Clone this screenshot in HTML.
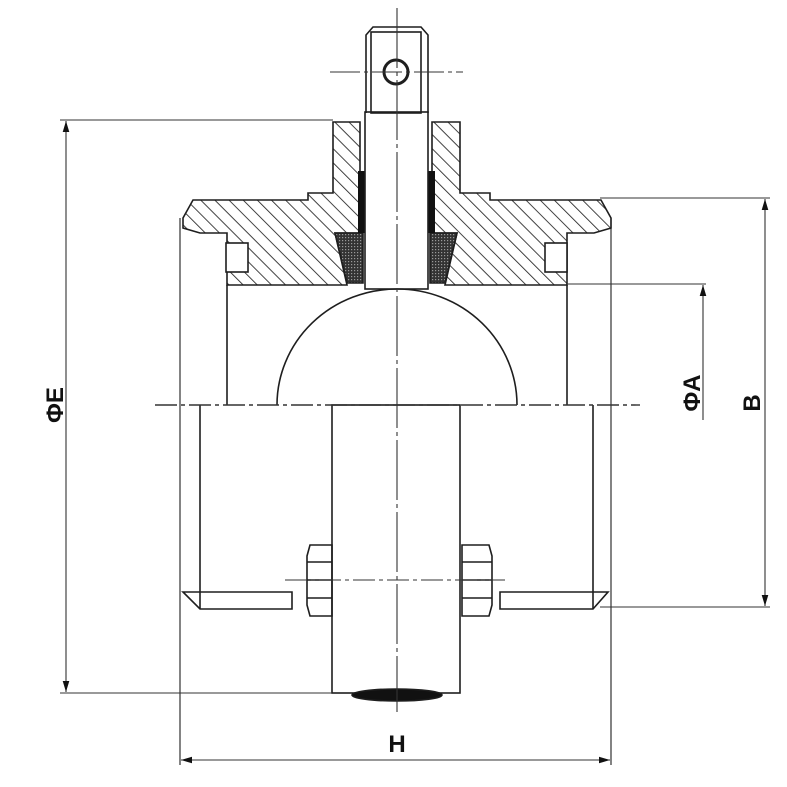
<!DOCTYPE html>
<html><head><meta charset="utf-8"><style>html,body{margin:0;padding:0;background:#fff}svg{display:block}</style></head><body>
<svg width="787" height="787" viewBox="0 0 787 787" xmlns="http://www.w3.org/2000/svg">
<defs>
<pattern id="h" width="10" height="10" patternUnits="userSpaceOnUse" patternTransform="rotate(-45)">
<line x1="0" y1="0" x2="0" y2="10" stroke="#222" stroke-width="1.7"/>
</pattern>
<pattern id="x" width="3" height="3" patternUnits="userSpaceOnUse">
<rect width="3" height="3" fill="#333"/><rect width="1.2" height="1.2" fill="#999"/>
</pattern>
<marker id="a" markerWidth="10" markerHeight="6" refX="10" refY="3" orient="auto"><path d="M0,0 L10,3 L0,6 Z" fill="#111"/></marker>
</defs>
<g fill="none" stroke="#1e1e1e" stroke-width="1.6">
<path d="M183,218 L193,200 L308,200 L308,193 L333,193 L333,122 L360,122 L360,233 L335,233 L347,285 L227,285 L227,233 L200,233 L183,228 Z" fill="url(#h)"/>
<path d="M611,218 L601,200 L490,200 L490,193 L460,193 L460,122 L432,122 L432,233 L457,233 L445,285 L567,285 L567,233 L594,233 L611,228 Z" fill="url(#h)"/>
<rect x="226" y="243" width="22" height="29" fill="#fff"/>
<rect x="545" y="243" width="22" height="29" fill="#fff"/>
<path d="M335,233 L363,233 L363,283 L347,283 Z" fill="url(#x)"/>
<path d="M430,233 L457,233 L445,283 L430,283 Z" fill="url(#x)"/>
<rect x="358" y="171" width="7" height="62" fill="#111" stroke="none"/>
<rect x="428" y="171" width="7" height="62" fill="#111" stroke="none"/>
<rect x="365" y="112" width="63" height="177" fill="#fff"/>
<path d="M366,113 L366,35 L373,27 L421,27 L428,35 L428,113"/>
<rect x="371" y="32" width="50" height="81"/>
<circle cx="396" cy="72" r="12" stroke-width="3"/>
<path d="M277,405 A120,116 0 0 1 517,405"/>
<line x1="180" y1="218" x2="180" y2="765" stroke-width="1.1"/>
<line x1="611" y1="218" x2="611" y2="765" stroke-width="1.1"/>
<line x1="227" y1="285" x2="227" y2="405"/>
<line x1="567" y1="285" x2="567" y2="405"/>
<line x1="200" y1="405" x2="200" y2="609"/>
<line x1="593" y1="405" x2="593" y2="609"/>
<rect x="332" y="405" width="128" height="288"/>
<path d="M183,592 L292,592 L292,609 L200,609 Z"/>
<path d="M608,592 L500,592 L500,609 L593,609 Z"/>
<path d="M310,545 L332,545 L332,616 L310,616 L307,605 L307,556 Z M307,562 L332,562 M307,580 L332,580 M307,598 L332,598"/>
<path d="M462,545 L489,545 L492,556 L492,605 L489,616 L462,616 Z M462,562 L492,562 M462,580 L492,580 M462,598 L492,598"/>
<ellipse cx="397" cy="695" rx="45" ry="6" fill="#111"/>
</g>
<g stroke="#333" stroke-width="1.1" fill="none">
<line x1="397" y1="8" x2="397" y2="712" stroke-dasharray="60,4,4,4"/>
<line x1="330" y1="72" x2="463" y2="72" stroke-dasharray="30,4,4,4"/>
<line x1="155" y1="405" x2="640" y2="405" stroke-dasharray="22,4,4,4" stroke-width="1.4"/>
<line x1="285" y1="580" x2="505" y2="580" stroke-dasharray="22,4,4,4"/>
<line x1="60" y1="120" x2="333" y2="120"/>
<line x1="60" y1="693" x2="332" y2="693"/>
<line x1="66" y1="405" x2="66" y2="121" marker-end="url(#a)"/>
<line x1="66" y1="405" x2="66" y2="692" marker-end="url(#a)"/>
<line x1="600" y1="198" x2="770" y2="198"/>
<line x1="600" y1="607" x2="770" y2="607"/>
<line x1="765" y1="400" x2="765" y2="199" marker-end="url(#a)"/>
<line x1="765" y1="400" x2="765" y2="606" marker-end="url(#a)"/>
<line x1="567" y1="284" x2="706" y2="284"/>
<line x1="703" y1="420" x2="703" y2="285" marker-end="url(#a)"/>
<line x1="397" y1="760" x2="181" y2="760" marker-end="url(#a)"/>
<line x1="397" y1="760" x2="610" y2="760" marker-end="url(#a)"/>
</g>
<g font-family="Liberation Sans, sans-serif" font-weight="bold" font-size="24" fill="#111" text-anchor="middle">
<text transform="translate(63,405) rotate(-90)">ΦE</text>
<text transform="translate(700,393) rotate(-90)">ΦA</text>
<text transform="translate(760,403) rotate(-90)">B</text>
<text x="397" y="752">H</text>
</g>
</svg>
</body></html>
